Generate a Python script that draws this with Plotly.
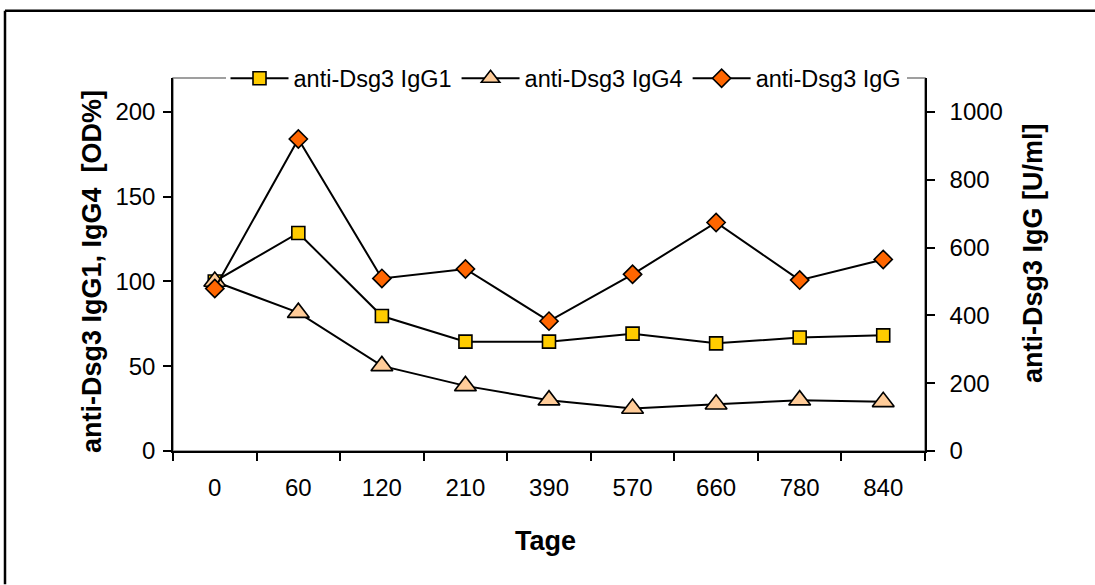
import plotly.graph_objects as go

# Tage nach Therapiebeginn (kategoriale Achse)
days = ["0", "60", "120", "210", "390", "570", "660", "780", "840"]

# anti-Dsg3 IgG1 / IgG4 in OD% (linke Achse)
igg1_od = [100, 128.6, 79.6, 64.5, 64.5, 69.2, 63.5, 66.9, 68.2]
igg4_od = [100, 81.6, 50.2, 38.4, 30.0, 25.1, 27.6, 30.0, 29.0]

# anti-Dsg3 IgG in U/ml (rechte Achse)
igg_uml = [479, 920, 509, 537, 383, 521, 674, 504, 565]

W, H = 1095, 585
L, R, T, B = 173, 925, 77.5, 451.5
FONT = "Liberation Sans, Arial, sans-serif"


def px(x):
    return (x - L) / (R - L)


def py(y):
    return (B - y) / (B - T)


fig = go.Figure()

fig.add_trace(go.Scatter(
    x=days, y=igg1_od, name="anti-Dsg3 IgG1", mode="lines+markers",
    line=dict(color="black", width=2),
    marker=dict(symbol="square", size=13, color="#FFCC00",
                line=dict(color="black", width=1.6)),
    yaxis="y",
))
fig.add_trace(go.Scatter(
    x=days, y=igg4_od, name="anti-Dsg3 IgG4", mode="lines+markers",
    line=dict(color="black", width=2),
    marker=dict(symbol="triangle-up", size=19, color="#FFCC99",
                line=dict(color="black", width=1.6)),
    yaxis="y",
))
fig.add_trace(go.Scatter(
    x=days, y=igg_uml, name="anti-Dsg3 IgG", mode="lines+markers",
    line=dict(color="black", width=2),
    marker=dict(symbol="diamond", size=14, color="#FF6600",
                line=dict(color="black", width=1.6)),
    yaxis="y2",
))

fig.update_layout(
    width=W, height=H,
    margin=dict(l=L, r=W - R, t=T, b=H - B, pad=0),
    paper_bgcolor="white", plot_bgcolor="white",
    font=dict(family=FONT, size=24, color="black"),
    showlegend=True,
    legend=dict(
        orientation="h", x=px(566), xanchor="center", y=py(78), yanchor="middle",
        bgcolor="white", borderwidth=0, font=dict(size=23.5, family=FONT),
        itemwidth=58, traceorder="normal",
    ),
    xaxis=dict(
        type="category", range=[-0.5, 8.5], showgrid=False, zeroline=False,
        showline=True, linecolor="black", linewidth=1.5,
        ticks="outside", ticklen=8, tickwidth=1.5, tickcolor="black",
        tickson="boundaries", ticklabelstandoff=14,
        tickfont=dict(size=24, family=FONT),
    ),
    yaxis=dict(
        range=[0, 220], tickvals=[0, 50, 100, 150, 200], showgrid=False,
        zeroline=False, showline=True, linecolor="black", linewidth=1.5,
        ticks="outside", ticklen=8, tickwidth=1.5, tickcolor="black",
        ticklabelstandoff=3, tickfont=dict(size=24, family=FONT),
    ),
    yaxis2=dict(
        range=[0, 1100], tickvals=[0, 200, 400, 600, 800, 1000],
        overlaying="y", side="right", showgrid=False, zeroline=False,
        showline=True, linecolor="black", linewidth=1.5,
        ticks="outside", ticklen=8, tickwidth=1.5, tickcolor="black",
        ticklabelstandoff=10, tickfont=dict(size=24, family=FONT),
    ),
    # inner half of the crossing tick marks on the right axis
    yaxis3=dict(
        range=[0, 1100], tickvals=[0, 200, 400, 600, 800, 1000],
        overlaying="y", side="right", showgrid=False, zeroline=False,
        showline=False, showticklabels=False,
        ticks="inside", ticklen=8, tickwidth=1.5, tickcolor="black",
    ),
)

# gray plot-area frame
fig.add_shape(type="rect", xref="paper", yref="paper", x0=0, x1=1, y0=0, y1=1,
              line=dict(color="#808080", width=1.5), layer="below")
# outer chart frame: left and top edges
fig.add_shape(type="line", xref="paper", yref="paper",
              x0=px(5), x1=px(5), y0=py(585), y1=py(10),
              line=dict(color="black", width=2.5))
fig.add_shape(type="line", xref="paper", yref="paper",
              x0=px(5), x1=px(1095), y0=py(10), y1=py(10),
              line=dict(color="black", width=2.5))

# axis titles
fig.add_annotation(text="<b>anti-Dsg3 IgG1, IgG4\u00a0\u00a0[OD%]</b>", textangle=-90,
                   xref="paper", yref="paper", x=px(92), y=py(272),
                   xanchor="center", yanchor="middle",
                   showarrow=False, font=dict(size=27, family=FONT))
fig.add_annotation(text="<b>anti-Dsg3 IgG [U/ml]</b>", textangle=-90,
                   xref="paper", yref="paper", x=px(1033), y=py(253),
                   xanchor="center", yanchor="middle",
                   showarrow=False, font=dict(size=27, family=FONT))
fig.add_annotation(text="<b>Tage</b>", xref="paper", yref="paper",
                   x=px(545), y=py(542), xanchor="center", yanchor="middle",
                   showarrow=False, font=dict(size=27, family=FONT))

fig.write_html("out.html")
